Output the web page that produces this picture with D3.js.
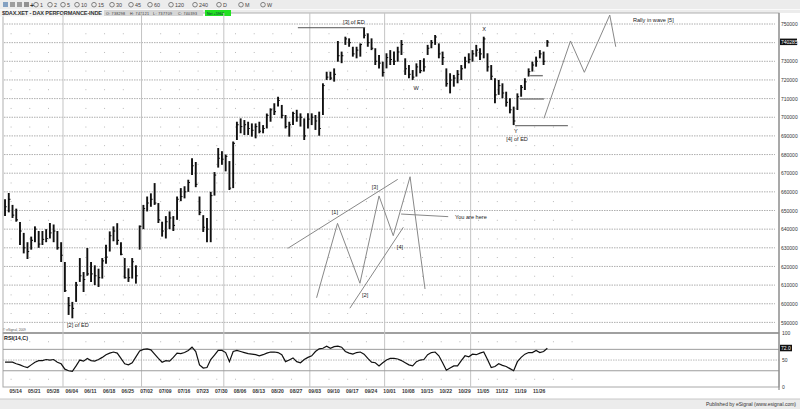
<!DOCTYPE html>
<html>
<head>
<meta charset="utf-8">
<script src="https://cdn.jsdelivr.net/npm/d3@7"></script>
<style>
body { margin: 0; background: #fff; }
svg { display: block; font-family: "Liberation Sans", Arial, sans-serif; }
</style>
</head>
<body>
<svg width="800" height="409"></svg>
<script>
// daily bars, 10 May 2012 .. 29 Nov 2012 (DAX points, axis shows x100)
var high = [
  6560,6594,6530,6510,6438,6380,6330,6360,6415,6390,
  6390,6400,6433,6425,6390,6330,6224,6036,6010,6117,
  6245,6170,6299,6224,6206,6188,6245,6316,6388,6415,
  6432,6330,6245,6190,6245,6206,6420,6530,6575,6592,
  6647,6540,6440,6470,6495,6470,6575,6620,6630,6665,
  6780,6760,6575,6475,6460,6600,6706,6835,6818,6800,
  6765,6870,6976,6994,6985,6976,6967,6967,6976,6958,
  7020,7048,7075,7110,7066,7012,6976,7030,7040,7021,
  6994,7021,7021,7012,7030,7182,7244,7244,7262,7409,
  7352,7432,7423,7378,7378,7396,7480,7450,7423,7370,
  7334,7298,7343,7360,7352,7378,7414,7316,7280,7253,
  7289,7307,7316,7388,7414,7441,7396,7352,7262,7236,
  7227,7253,7280,7325,7343,7360,7388,7370,7432,7343,
  7280,7209,7200,7182,7137,7102,7057,7128,7173,7209,
  7262,7298,7325,7360,7352,7414
];
var low = [
  6470,6490,6460,6440,6315,6270,6240,6290,6330,6300,
  6315,6330,6350,6330,6290,6224,6063,5940,5922,6010,
  6117,6063,6150,6117,6100,6090,6135,6215,6280,6335,
  6316,6260,6135,6117,6135,6108,6290,6400,6495,6520,
  6530,6433,6360,6350,6400,6390,6450,6550,6565,6600,
  6690,6625,6475,6385,6330,6330,6580,6730,6745,6710,
  6610,6620,6878,6914,6905,6905,6896,6887,6914,6914,
  6940,6976,7012,7057,6994,6940,6896,6958,6976,6950,
  6878,6940,6958,6932,6901,7012,7200,7200,7191,7298,
  7290,7388,7378,7325,7316,7325,7423,7378,7360,7280,
  7262,7218,7262,7280,7280,7298,7334,7227,7209,7200,
  7218,7236,7245,7334,7370,7388,7316,7280,7164,7128,
  7164,7182,7200,7262,7289,7298,7325,7307,7316,7245,
  7200,7075,7120,7102,7057,7021,6958,7039,7110,7146,
  7218,7245,7271,7316,7280,7378
];
var close = [
  6520,6560,6475,6450,6390,6300,6280,6340,6400,6320,
  6345,6350,6380,6390,6300,6260,6070,5990,5975,6100,
  6150,6130,6160,6160,6150,6140,6230,6250,6365,6390,
  6340,6265,6140,6140,6225,6150,6415,6510,6540,6560,
  6540,6450,6390,6440,6460,6420,6560,6575,6600,6650,
  6740,6640,6490,6410,6400,6580,6690,6780,6775,6790,
  6620,6860,6960,6950,6960,6940,6930,6950,6925,6940,
  7010,7040,7030,7090,7010,6950,6960,7020,7000,7000,
  6900,6990,7000,6980,6940,7170,7215,7210,7230,7330,
  7330,7420,7400,7340,7360,7390,7440,7400,7370,7300,
  7290,7240,7320,7310,7300,7350,7390,7260,7230,7215,
  7270,7250,7270,7370,7400,7430,7340,7320,7180,7200,
  7210,7230,7260,7300,7310,7340,7360,7340,7420,7270,
  7220,7120,7170,7130,7080,7040,6980,7110,7160,7190,
  7245,7280,7300,7340,7300,7403
];
var rsi = [
  46,46,46,43,41,38,36,41,46,49,
  49,51,50,51,46,43,33,30,29,39,
  50,48,53,49,48,51,55,60,63,65,
  63,53,43,41,45,56,67,70,71,69,
  61,53,46,49,48,55,63,62,64,68,
  74,66,41,35,36,51,59,68,68,64,
  47,66,68,66,64,62,61,60,58,60,
  63,65,65,64,60,47,50,54,47,45,
  51,55,58,66,71,72,76,72,75,76,
  74,66,63,61,64,65,61,53,46,45,
  39,45,50,53,53,52,49,45,41,39,
  47,50,51,60,64,65,58,45,31,35,
  39,39,49,58,56,61,60,63,65,51,
  36,38,43,40,38,34,30,47,55,61,
  64,64,68,64,66,72
];

var priceTicks = [7500,7400,7300,7200,7100,7000,6900,6800,6700,6600,6500,6400,6300,6200,6100,6000,5900];
var rsiTicks = [100,50,0];
var dateLabels = ["05/14","05/21","05/28","06/04","06/11","06/18","06/25","07/02","07/09","07/16",
  "07/23","07/30","08/06","08/13","08/20","08/27","09/03","09/10","09/17","09/24","10/01",
  "10/08","10/15","10/22","10/29","11/05","11/12","11/19","11/26"];
var toolbarItems = ["1","2","5","10","15","30","45","60","120","240","D","M","W"];
var quote = ["O: 738298","H: 741121","L: 737709","C: 740393"];
var netChange = "Net +5962";
var priceTag = "740285";
var rsiTag = "72.0";

// annotation drawing (day index, price)
var waveLines = [
  {c: "#555", w: 1, pts: [[78.8,7480],[96.8,7480]]},
  {c: "#888", w: 1, pts: [[76.1,6297],[105.5,6667]]},
  {c: "#888", w: 1, pts: [[92.7,5976],[107,6410]]},
  {c: "#888", w: 1, pts: [[83.8,6032],[89.4,6431],[95.4,6110],[100.5,6578],[104.3,6365],[108.8,6681],[112.8,6079]]},
  {c: "#888", w: 1, pts: [[106.4,6481],[119,6467]]},
  {c: "#777", w: 1.4, pts: [[140.9,7223],[144.3,7223]]},
  {c: "#777", w: 1.4, pts: [[138.2,7098],[144.6,7098]]},
  {c: "#777", w: 1.4, pts: [[136.9,6955],[151,6955]]},
  {c: "#888", w: 1, pts: [[144.6,6994],[151.7,7409],[155.4,7241],[162.2,7548],[163.8,7378]]}
];
var waveLabels = [
  {t: "[3] of ED", i: 93.8, p: 7511, a: "middle"},
  {t: "[2] of ED", i: 20, p: 5886, a: "middle"},
  {t: "W", i: 110.4, p: 7157, a: "middle"},
  {t: "X", i: 128.6, p: 7473, a: "middle"},
  {t: "Y", i: 137.1, p: 6926, a: "middle"},
  {t: "[4] of ED", i: 137.4, p: 6883, a: "middle"},
  {t: "Rally in wave [5]", i: 168.4, p: 7521, a: "start"},
  {t: "You are here", i: 120.8, p: 6465, a: "start"},
  {t: "[1]", i: 88.7, p: 6492, a: "middle"},
  {t: "[3]", i: 99.4, p: 6626, a: "middle"},
  {t: "[4]", i: 106.1, p: 6304, a: "middle"},
  {t: "[2]", i: 96.8, p: 6047, a: "middle"}
];

var svg = d3.select("svg");
var left = 3, right = 779, mainTop = 13, mainBottom = 333, rsiBottom = 387;

// trading days (weekdays)
var days = d3.timeDay.range(new Date(2012, 4, 10), new Date(2012, 10, 30))
  .filter(function(d) { return d.getDay() > 0 && d.getDay() < 6; });
var fmt = d3.timeFormat("%m/%d");
var bars = days.map(function(d, i) {
  return {i: i, date: d, h: high[i], l: low[i], c: close[i], r: rsi[i]};
});
var monthStarts = bars.filter(function(d, i) {
  return i > 0 && d.date.getMonth() != bars[i - 1].date.getMonth();
}).map(function(d) { return d.i; });
var labelIdx = dateLabels.map(function(s) {
  return bars.find(function(b) { return fmt(b.date) == s; }).i;
});

var x = d3.scaleLinear().domain([0, 207.5]).range([3.16, 779.2]);
var y = d3.scaleLinear().domain([5900, 7500]).range([322.4, 24]);
var yr = d3.scaleLinear().domain([0, 100]).range([386.8, 333.3]);

// background frames
svg.append("rect").attr("x", 0).attr("y", 0).attr("width", 800).attr("height", 409).attr("fill", "#fff");
svg.append("rect").attr("x", 0).attr("y", 0).attr("width", 800).attr("height", 13).attr("fill", "#ececec");
svg.append("line").attr("x1", 0).attr("x2", 800).attr("y1", 9.5).attr("y2", 9.5).attr("stroke", "#fafafa");
svg.append("rect").attr("x", 0).attr("y", 399).attr("width", 800).attr("height", 10).attr("fill", "#ececec");
svg.append("line").attr("x1", 0).attr("x2", 800).attr("y1", 399).attr("y2", 399).attr("stroke", "#c8c8c8");

// toolbar
var tb = svg.append("g");
[3, 10, 17, 24].forEach(function(px, k) {
  tb.append("rect").attr("x", px).attr("y", 2).attr("width", 5).attr("height", 5)
    .attr("fill", ["#6a8fb8", "#8a8a8a", "#8a8a8a", "#7a7a7a"][k]).attr("opacity", 0.8);
});
tb.append("text").attr("x", 30).attr("y", 7.5).attr("font-size", 7).attr("font-weight", "bold").attr("fill", "#333").text("+");
var tbx = [36, 50, 63, 77, 94, 112, 131, 150, 171, 195, 219, 241, 263];
toolbarItems.forEach(function(t, k) {
  tb.append("circle").attr("cx", tbx[k]).attr("cy", 4.7).attr("r", 2.3)
    .attr("fill", "none").attr("stroke", "#666").attr("stroke-width", 0.8);
  tb.append("text").attr("x", tbx[k] + 3.9).attr("y", 6.8).attr("font-size", 5.4).attr("fill", "#444").text(t);
});

// main panel + rsi panel borders
svg.append("rect").attr("x", left).attr("y", mainTop).attr("width", right - left).attr("height", mainBottom - mainTop)
  .attr("fill", "#fff").attr("stroke", "#b0b0b0").attr("stroke-width", 1);
svg.append("rect").attr("x", left).attr("y", mainBottom).attr("width", right - left).attr("height", rsiBottom - mainBottom)
  .attr("fill", "#fff").attr("stroke", "#a8a8a8").attr("stroke-width", 1);
svg.append("line").attr("x1", left).attr("x2", right).attr("y1", mainBottom).attr("y2", mainBottom)
  .attr("stroke", "#a0a0a0").attr("stroke-width", 2);

// title row
svg.append("rect").attr("x", 0).attr("y", 9.5).attr("width", 104).attr("height", 7).attr("fill", "#f4f4f4");
svg.append("text").attr("x", 2).attr("y", 15.3).attr("font-size", 5.6).attr("font-weight", "bold")
  .attr("fill", "#333").attr("textLength", 100).text("$DAX.XET - DAX PERFORMANCE-INDE");
svg.append("rect").attr("x", 104).attr("y", 10).attr("width", 99).attr("height", 6).attr("fill", "#d6d6d6");
var qx = [106, 130, 153, 178];
quote.forEach(function(q, k) {
  svg.append("text").attr("x", qx[k]).attr("y", 14.6).attr("font-size", 3.6).attr("fill", "#333")
    .attr("textLength", 19).text(q);
});
svg.append("rect").attr("x", 205).attr("y", 10).attr("width", 26).attr("height", 6).attr("fill", "#22e022");
svg.append("text").attr("x", 207).attr("y", 14.6).attr("font-size", 3.6).attr("fill", "#124").text(netChange);

// grid: horizontal dashed
var gg = svg.append("g");
gg.selectAll(".hg").data(priceTicks).enter().append("line")
  .attr("x1", left + 1).attr("x2", right - 4)
  .attr("y1", function(d) { return y(d); }).attr("y2", function(d) { return y(d); })
  .attr("stroke", "#9a9a9a").attr("stroke-width", 0.8).attr("stroke-dasharray", "1.5,1");
// month lines
gg.selectAll(".vm").data(monthStarts).enter().append("line")
  .attr("x1", function(d) { return x(d); }).attr("x2", function(d) { return x(d); })
  .attr("y1", mainTop).attr("y2", rsiBottom)
  .attr("stroke", "#c4c4c4").attr("stroke-width", 1);
// weekly dots
var dotWeeks = labelIdx.concat([147, 152]).filter(function(d) {
  return monthStarts.every(function(m) { return Math.abs(m - d) > 1; });
});
dotWeeks.forEach(function(w) {
  priceTicks.slice(0, -1).forEach(function(p) {
    gg.append("rect").attr("x", x(w)).attr("y", y(p - 50)).attr("width", 0.9).attr("height", 0.9).attr("fill", "#aaa");
  });
  [85, 15].forEach(function(r) {
    gg.append("rect").attr("x", x(w)).attr("y", yr(r)).attr("width", 0.9).attr("height", 0.9).attr("fill", "#aaa");
  });
});

// rsi levels
gg.selectAll(".rl").data([70, 30]).enter().append("line")
  .attr("x1", left).attr("x2", right)
  .attr("y1", function(d) { return yr(d); }).attr("y2", function(d) { return yr(d); })
  .attr("stroke", "#9c9c9c").attr("stroke-width", 1);
gg.append("line").attr("x1", left).attr("x2", right).attr("y1", yr(50)).attr("y2", yr(50))
  .attr("stroke", "#a8a8a8").attr("stroke-width", 0.8).attr("stroke-dasharray", "1.5,1");

// price bars
var pb = svg.append("g").attr("stroke", "#111");
pb.selectAll(".hl").data(bars).enter().append("line")
  .attr("x1", function(d) { return x(d.i + 0.5); }).attr("x2", function(d) { return x(d.i + 0.5); })
  .attr("y1", function(d) { return y(d.h); }).attr("y2", function(d) { return y(d.l); })
  .attr("stroke-width", 1.9);
pb.selectAll(".cl").data(bars).enter().append("line")
  .attr("x1", function(d) { return x(d.i + 0.5); }).attr("x2", function(d) { return x(d.i + 0.5) + 1.7; })
  .attr("y1", function(d) { return y(d.c); }).attr("y2", function(d) { return y(d.c); })
  .attr("stroke-width", 1.1);

// rsi line
var rsiLine = d3.line()
  .x(function(d) { return x(d.i + 0.5); })
  .y(function(d) { return yr(d.r); });
svg.append("path").datum(bars).attr("d", rsiLine)
  .attr("fill", "none").attr("stroke", "#111").attr("stroke-width", 1.2);

// wave annotations
var wl = d3.line().x(function(d) { return x(d[0]); }).y(function(d) { return y(d[1]); });
svg.selectAll(".wave").data(waveLines).enter().append("path")
  .attr("d", function(d) { return wl(d.pts); })
  .attr("fill", "none")
  .attr("stroke", function(d) { return d.c; })
  .attr("stroke-width", function(d) { return d.w; });
svg.selectAll(".wlab").data(waveLabels).enter().append("text")
  .attr("x", function(d) { return x(d.i); })
  .attr("y", function(d) { return y(d.p); })
  .attr("dy", "0.35em")
  .attr("text-anchor", function(d) { return d.a; })
  .attr("font-size", 5.6)
  .attr("fill", "#222")
  .text(function(d) { return d.t; });

// right axes
var ay = svg.append("g").attr("transform", "translate(" + right + ",0)")
  .call(d3.axisRight(y).tickValues(priceTicks).tickSize(0).tickPadding(2)
    .tickFormat(function(d) { return d * 100; }));
var ar = svg.append("g").attr("transform", "translate(" + right + ",0)")
  .call(d3.axisRight(yr).tickValues(rsiTicks).tickSize(0).tickPadding(3));
[ay, ar].forEach(function(a) {
  a.select(".domain").remove();
  a.selectAll("text").attr("font-size", 5).attr("fill", "#333")
    .attr("font-family", "Liberation Sans, Arial, sans-serif");
});
svg.append("line").attr("x1", right).attr("x2", right).attr("y1", mainTop).attr("y2", rsiBottom + 3)
  .attr("stroke", "#8a8a8a").attr("stroke-width", 1.2);

// current value tags
var lastBar = bars[bars.length - 1];
svg.append("rect").attr("x", 780).attr("y", y(lastBar.c) - 3.5).attr("width", 17).attr("height", 6.5).attr("fill", "#111");
svg.append("text").attr("x", 781).attr("y", y(lastBar.c) + 1.7).attr("font-size", 5).attr("fill", "#fff").text(priceTag);
svg.append("rect").attr("x", 780).attr("y", yr(lastBar.r) - 3.5).attr("width", 12).attr("height", 6.5).attr("fill", "#111");
svg.append("text").attr("x", 781).attr("y", yr(lastBar.r) + 1.7).attr("font-size", 5).attr("fill", "#fff").text(rsiTag);

// date axis
var ax = svg.append("g").attr("transform", "translate(0," + rsiBottom + ")")
  .call(d3.axisBottom(x).tickValues(labelIdx.map(function(d) { return d + 1.2; })).tickSize(0).tickPadding(2)
    .tickFormat(function(d, k) { return dateLabels[k]; }));
ax.select(".domain").remove();
ax.selectAll("text").attr("font-size", 5).attr("font-weight", "bold").attr("fill", "#333")
  .attr("font-family", "Liberation Sans, Arial, sans-serif");

// small texts
svg.append("text").attr("x", 4).attr("y", 340).attr("font-size", 5.4).attr("font-weight", "bold").attr("fill", "#222").text("RSI(14,C)");
svg.append("text").attr("x", 3).attr("y", 331).attr("font-size", 3.2).attr("fill", "#555").text("\u00a9 eSignal, 2009");
svg.append("text").attr("x", 796).attr("y", 406).attr("text-anchor", "end").attr("font-size", 5).attr("fill", "#333")
  .text("Published by eSignal (www.esignal.com)");
</script>
</body>
</html>
